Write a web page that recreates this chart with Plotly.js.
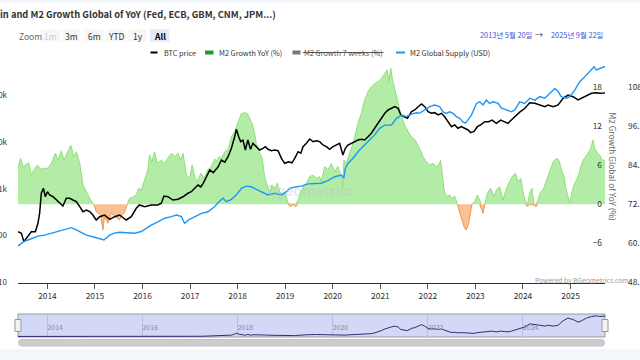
<!DOCTYPE html>
<html><head><meta charset="utf-8">
<script src="https://cdn.plot.ly/plotly-3.0.1.min.js"></script>
<style>
html,body{margin:0;padding:0;background:#f3f6fb;width:640px;height:360px;overflow:hidden}
#chart{position:absolute;left:0;top:3px;width:640px;height:346px;background:#fff}
</style></head><body><div id="chart"></div>
<script>
// ---------------- DATA ----------------
const btcDates = ["2013-05-20","2013-06-15","2013-07-04","2013-08-04","2013-08-30","2013-09-30","2013-10-20","2013-11-02","2013-11-15","2013-12-01","2013-12-16",
"2014-01-01","2014-01-18","2014-02-13","2014-03-10","2014-04-04","2014-04-30","2014-05-26","2014-06-21","2014-07-16","2014-08-11","2014-09-06","2014-10-01","2014-10-27","2014-11-22","2014-12-16",
"2015-01-11","2015-02-06","2015-03-16","2015-04-24","2015-06-01","2015-07-09","2015-08-29","2015-10-07","2015-11-14","2015-12-09",
"2016-01-17","2016-03-09","2016-04-28","2016-05-25","2016-06-14","2016-07-14","2016-08-22","2016-09-30","2016-11-07","2016-12-15",
"2017-01-10","2017-02-05","2017-03-03","2017-03-24","2017-04-11","2017-05-07","2017-06-01","2017-06-27","2017-07-09","2017-08-04","2017-08-29","2017-09-24","2017-10-19","2017-11-14","2017-12-09","2017-12-22",
"2018-01-09","2018-01-24","2018-02-11","2018-03-01","2018-03-20","2018-04-10","2018-04-28","2018-05-24","2018-06-19","2018-07-14","2018-08-02","2018-08-22","2018-09-17","2018-10-12","2018-11-07","2018-12-03","2018-12-28",
"2019-01-28","2019-02-22","2019-03-15","2019-04-10","2019-05-01","2019-05-18","2019-06-13","2019-07-08","2019-08-03","2019-08-29","2019-09-23","2019-10-18","2019-11-13","2019-12-08",
"2020-01-03","2020-01-29","2020-02-23","2020-03-19","2020-04-07","2020-04-27","2020-05-23","2020-06-18","2020-07-13","2020-08-08","2020-09-02","2020-09-28","2020-10-24","2020-11-18","2020-12-14",
"2021-01-09","2021-02-04","2021-03-01","2021-03-27","2021-04-22","2021-05-17","2021-06-07","2021-07-02","2021-07-28","2021-08-28","2021-09-22","2021-10-18","2021-11-13","2021-12-08",
"2022-01-02","2022-01-28","2022-02-22","2022-03-20","2022-04-15","2022-05-10","2022-06-04","2022-07-01","2022-07-26","2022-08-20","2022-09-15","2022-10-10","2022-11-05","2022-11-25","2022-12-21",
"2023-01-16","2023-02-10","2023-03-13","2023-04-13","2023-05-08","2023-06-11","2023-07-14","2023-08-14","2023-09-08","2023-10-04","2023-10-30","2023-12-07",
"2024-01-14","2024-02-22","2024-04-01","2024-05-09","2024-06-17","2024-07-12","2024-08-20","2024-09-27","2024-11-04","2024-12-12",
"2025-01-20","2025-02-27","2025-03-25","2025-05-03","2025-06-10","2025-07-18","2025-08-12","2025-09-15","2025-09-22"];
const btcPrice = [121,112,74,94,121,121,183,299,802,1026,676,
867,736,676,575,490,428,627,627,575,530,414,324,352,324,275,
215,253,275,222,253,275,215,253,383,451,
414,451,451,490,701,676,575,600,676,802,
867,1026,1205,1100,1308,1815,2525,2213,2400,2950,4130,3700,4860,7340,13000,18700,
13000,10200,11000,6760,11070,7000,9400,7950,6760,7340,7950,7000,6530,6760,6530,4490,3510,
3800,3600,4490,6220,5760,7950,9400,11600,10200,10700,10200,8650,7950,7000,
7950,8650,9400,5280,7340,8650,9400,10200,11070,11500,11070,13000,15400,19700,25100,
32200,41200,48500,52700,57000,52400,38000,34800,32200,44700,48500,57000,65200,57000,
44700,41200,42500,38000,41200,34800,27200,21300,23200,19700,21300,19700,18100,15900,16900,
21300,23200,27200,27200,29500,25100,29500,27200,25100,29500,34800,43500,
52000,69500,67500,62100,57000,62100,57000,62100,86300,101400,
93300,79400,86300,101400,110400,113800,110000,112000,113000];

const m2YoyDates = ["2013-05-20","2013-06-09","2013-06-27","2013-07-23","2013-08-10","2013-08-30","2013-09-19","2013-10-16","2013-11-10","2013-12-10",
"2014-01-05","2014-01-31","2014-03-03","2014-03-23","2014-04-18","2014-05-08","2014-05-26","2014-06-29","2014-07-24","2014-08-11","2014-09-06","2014-10-01","2014-10-27","2014-11-29","2014-12-24",
"2015-01-11","2015-02-14","2015-03-03","2015-03-16","2015-04-10","2015-05-06","2015-06-01","2015-07-09","2015-07-22","2015-08-16","2015-09-06","2015-09-24","2015-10-20","2015-11-14","2015-12-02","2015-12-22",
"2016-01-17","2016-02-11","2016-02-24","2016-03-13","2016-04-03","2016-04-23","2016-05-25","2016-06-20","2016-07-20","2016-08-14","2016-09-04","2016-09-30","2016-10-20","2016-11-07","2016-12-03","2016-12-29",
"2017-01-16","2017-02-05","2017-02-26","2017-03-24","2017-04-18","2017-05-14","2017-06-13","2017-07-09","2017-07-26","2017-08-13","2017-08-29","2017-09-24","2017-10-19","2017-11-14","2017-12-09",
"2018-01-04","2018-01-30","2018-02-24","2018-03-16","2018-04-03","2018-04-21","2018-05-11","2018-05-24","2018-06-19","2018-07-09","2018-07-27","2018-08-17","2018-09-04","2018-09-21","2018-10-12","2018-11-02","2018-11-20","2018-12-15",
"2019-01-02","2019-01-22","2019-02-12","2019-03-02","2019-03-22","2019-04-10","2019-05-01","2019-05-18","2019-06-13","2019-07-08","2019-08-03","2019-08-29","2019-09-23","2019-10-05","2019-10-31","2019-11-26","2019-12-21",
"2020-01-16","2020-02-10","2020-03-03","2020-03-19","2020-03-27","2020-04-15","2020-05-11","2020-06-05","2020-06-24","2020-07-13","2020-08-08","2020-09-02","2020-09-28","2020-10-24","2020-11-18","2020-12-14",
"2021-01-09","2021-02-04","2021-02-22","2021-03-07","2021-03-22","2021-04-04","2021-04-22","2021-05-13","2021-05-30","2021-06-17","2021-07-07","2021-08-02","2021-08-28","2021-09-22","2021-10-11","2021-10-30","2021-11-24","2021-12-20",
"2022-01-15","2022-02-09","2022-03-07","2022-03-25","2022-04-09","2022-04-19","2022-05-05","2022-05-23","2022-06-17","2022-07-05","2022-07-26","2022-08-15","2022-09-02","2022-09-19","2022-10-10","2022-10-23","2022-11-10","2022-11-25","2022-12-05","2022-12-26",
"2023-01-16","2023-02-03","2023-02-16","2023-02-28","2023-03-13","2023-04-03","2023-04-28","2023-05-24","2023-06-11","2023-07-06","2023-08-01","2023-08-19","2023-09-13","2023-10-09","2023-11-04","2023-11-24","2023-12-15",
"2024-01-01","2024-01-20","2024-02-04","2024-02-22","2024-03-10","2024-03-25","2024-04-10","2024-04-25","2024-05-16","2024-06-03","2024-06-22","2024-07-12","2024-08-02","2024-08-20","2024-09-15","2024-10-03","2024-10-23","2024-11-12","2024-11-23","2024-12-12","2024-12-25",
"2025-01-12","2025-01-27","2025-02-15","2025-03-04","2025-03-20","2025-04-07","2025-04-25","2025-05-15","2025-06-04","2025-06-22","2025-07-05","2025-07-26","2025-08-12","2025-08-30","2025-09-15","2025-09-22"];
const m2YoyValues = [5.55,7.09,5.8,6.2,6.4,4.5,5.3,6.06,5.4,5.55,
5.55,6.3,7.86,6.8,8.26,6.8,7.6,9.14,7.3,8.1,6.3,2.97,1.94,0.66,0,
-1.14,-1.65,-3.96,-1.8,-2.93,-1.39,-1.8,-2.4,-1.8,-1.2,0,0.92,1.1,1.43,2.47,2.2,
3.74,5.29,7.6,6.5,8.1,6.3,6.8,6.3,7.33,7.86,7.33,7.86,6.8,7.86,4.51,4.0,
6.06,4.26,3.48,4.78,4.0,5.29,5.8,7.0,6.6,7.33,7.09,8.1,8.37,10.4,11.2,
12.73,14.0,14.1,14.0,13.25,12.5,10.9,9.4,7.86,7.09,4.26,2.71,1.7,2.97,2.47,3.24,1.94,1.43,
1.7,0.26,-0.37,0.05,-0.37,0.66,1.7,2.71,3.24,4.26,4.5,4.0,4.26,3.48,5.8,5.3,6.3,
5.0,5.8,4.5,2.71,6.8,6.3,7.86,9.4,10.9,12.5,14.0,16.07,17.35,18.1,18.6,18.9,
19.4,20.2,20.7,18.9,20.95,19.2,17.6,16.07,14.5,13.25,12.2,11.2,10.4,10.0,9.4,8.6,7.33,6.56,
6.06,6.3,5.8,6.06,6.8,4.78,2.2,1.17,1.43,0.92,1.28,0,-1.39,-2.42,-3.7,-3.96,-2.93,-0.9,0,0.4,
1.43,0.66,-0.6,-1.39,0,1.7,2.47,1.17,2.2,2.71,0.66,1.94,3.24,4.26,4.78,3.5,4.0,
1.94,0.4,-0.37,1.7,2.47,-0.1,-0.4,0.66,1.94,2.2,3.24,4.51,5.8,6.56,7.09,6.8,5.29,4.26,2.71,0.92,0.15,
1.94,2.97,3.74,4.51,5.8,6.8,7.33,7.86,8.6,9.9,8.6,7.86,7.6,6.8,6.8,6.8];

const m2SupplyDates = ["2013-05-20","2013-07-04","2013-08-04","2013-09-11","2013-10-20","2013-12-10",
"2014-01-31","2014-03-23","2014-05-14","2014-07-04","2014-08-11","2014-09-18","2014-10-27","2014-12-16",
"2015-01-24","2015-03-11","2015-04-24","2015-06-01","2015-07-09","2015-08-16","2015-11-02","2015-12-22",
"2016-01-30","2016-03-09","2016-04-28","2016-06-20","2016-08-10","2016-09-18","2016-10-26","2016-11-20","2016-12-20",
"2017-02-05","2017-03-29","2017-05-19","2017-07-09","2017-08-13","2017-09-10","2017-10-06","2017-11-14","2017-12-22",
"2018-01-30","2018-03-08","2018-04-16","2018-05-24","2018-07-01","2018-08-22","2018-10-12","2018-12-03",
"2019-01-10","2019-02-05","2019-03-28","2019-05-06","2019-06-26","2019-08-16","2019-10-05","2019-11-25",
"2020-01-16","2020-03-08","2020-03-26","2020-04-07","2020-04-27","2020-06-05","2020-07-13","2020-09-02","2020-10-11","2020-11-18","2020-12-27",
"2021-02-04","2021-03-27","2021-05-05","2021-06-12","2021-07-20","2021-08-28","2021-10-05","2021-10-30","2021-12-08",
"2022-01-15","2022-02-22","2022-04-01","2022-04-27","2022-05-23","2022-06-17","2022-07-13","2022-08-08","2022-09-02","2022-09-27","2022-10-16","2022-11-05","2022-12-01",
"2023-01-09","2023-02-03","2023-02-28","2023-03-26","2023-04-20","2023-05-16","2023-06-24","2023-07-20","2023-08-27","2023-10-04","2023-10-30","2023-12-07",
"2024-01-14","2024-02-22","2024-04-01","2024-05-09","2024-06-17","2024-07-25","2024-09-02","2024-09-27","2024-10-20","2024-11-30","2024-12-25",
"2025-02-02","2025-03-12","2025-04-20","2025-05-15","2025-06-10","2025-06-30","2025-07-18","2025-08-12","2025-09-15","2025-09-22"];
const m2SupplyValues = [59.3,60.6,61.1,61.6,62.3,62.6,
63.2,63.7,64.2,64.9,64.2,63.3,62.6,62.1,
61.6,61.1,62.6,63.2,63.5,63.35,63.2,63.7,
64.7,65.7,66.7,67.8,68.3,68.8,68.3,66.2,67.3,
68.3,69.3,69.8,71.4,73.0,74.0,72.9,73.6,75.0,
77.0,77.7,77.5,76.7,76.0,75.0,75.5,75.0,
76.0,77.0,77.5,77.7,78.4,78.6,78.6,79.4,
80.6,81.1,80.1,83.2,84.7,86.3,88.3,90.4,91.9,93.5,95.5,
96.5,96.5,98.6,99.6,99.1,99.9,100.3,100.2,101.2,
102.2,102.7,102.2,100.6,100.1,100.6,100.1,99.1,98.6,97.5,97.1,98.1,99.6,
103.2,103.7,102.7,104.2,103.2,103.7,103.2,101.7,101.2,100.6,101.2,103.7,
103.2,104.8,104.2,105.3,104.8,106.3,107.8,106.9,105.3,104.8,105.3,
107.3,109.9,111.4,112.5,113.5,114.5,113.5,114.0,114.5,114.3];

const yearTicks = ["2014-01-01","2015-01-01","2016-01-01","2017-01-01","2018-01-01","2019-01-01","2020-01-01","2021-01-01","2022-01-01","2023-01-01","2024-01-01","2025-01-01"];
const yearLabels = ["2014","2015","2016","2017","2018","2019","2020","2021","2022","2023","2024","2025"];
const navTicks = ["2014-01-01","2016-01-01","2018-01-01","2020-01-01","2022-01-01","2024-01-01"];
const navLabels = ["2014","2016","2018","2020","2022","2024"];
const btcTickVals = [10,100,1000,10000,100000];
const btcTickText = ["10","100","1k","10k","100k"];
const yoyTickVals = [-12,-6,0,6,12,18];
const supplyTickVals = [48.1,60.1,72.1,84.1,96.1,108.1];
const supplyTickText = ["48.1T","60.1T","72.1T","84.1T","96.1T","108.1T"];

// ---------------- LAYOUT HELPERS ----------------
const H = 346, OFF = 3, ML = 18, PW = 622;
const px = x => (x - ML) / PW;
const py = y => (H + OFF - y) / H;
const FONT = "'Noto Sans CJK KR', 'Noto Sans', sans-serif";
const X0 = "2013-05-20", X1 = "2025-09-22";
const TICKFONT = {family: FONT, size: 8.4, color: '#333'};

// split the YoY series into its positive (green) and negative (orange) parts
function part(sign) {
  return m2YoyValues.map((v, i) => {
    const ok = w => w !== undefined && sign * w > 0;
    if (sign * v > 0) return v;
    if (ok(m2YoyValues[i - 1]) || ok(m2YoyValues[i + 1])) return 0;
    return null;
  });
}
const pos = part(1);
const neg = part(-1);

const data = [
  {x: m2YoyDates, y: pos, type: 'scatter', mode: 'lines', fill: 'tozeroy', fillcolor: '#b3eca6',
   connectgaps: false, line: {color: '#8fdf7c', width: 1}, xaxis: 'x', yaxis: 'y', hoverinfo: 'skip'},
  {x: m2YoyDates, y: neg, type: 'scatter', mode: 'lines', fill: 'tozeroy', fillcolor: '#f8c295',
   connectgaps: false, line: {color: '#f0954f', width: 1}, xaxis: 'x', yaxis: 'y', hoverinfo: 'skip'},
  {x: btcDates, y: btcPrice, type: 'scatter', mode: 'lines', line: {color: '#000', width: 1.5},
   xaxis: 'x', yaxis: 'y2'},
  {x: m2SupplyDates, y: m2SupplyValues, type: 'scatter', mode: 'lines', line: {color: '#1e96f5', width: 1.4},
   xaxis: 'x', yaxis: 'y3'},
  {x: btcDates, y: btcPrice, type: 'scatter', mode: 'lines', line: {color: '#2c2f6e', width: 1},
   xaxis: 'x2', yaxis: 'y4'}
];

const shapes = [];
const annotations = [];
function rect(x0, y0, x1, y1, fill, lineColor, lw) {
  shapes.push({type: 'rect', xref: 'paper', yref: 'paper', x0: px(x0), x1: px(x1), y0: py(y1), y1: py(y0),
    fillcolor: fill, line: {color: lineColor || 'rgba(0,0,0,0)', width: lw || 0}, layer: 'above'});
}
function hline(x0, x1, y, color, w) {
  shapes.push({type: 'line', xref: 'paper', yref: 'paper', x0: px(x0), x1: px(x1), y0: py(y), y1: py(y),
    line: {color: color, width: w}, layer: 'above'});
}
function text(t, x, y, opts) {
  opts = opts || {};
  annotations.push(Object.assign({text: t, xref: 'paper', yref: 'paper', x: px(x), y: py(y), showarrow: false,
    xanchor: opts.xanchor || 'left', yanchor: 'middle', borderpad: 0,
    font: {family: FONT, size: opts.size || 9, color: opts.color || '#333'}}, opts.extra || {}));
}

// Title
text('<b>in and M2 Growth Global of YoY (Fed, ECB, GBM, CNM, JPM...)</b>', -1, 13.5, {size: 9.3, color: '#333'});
// Range selector
text('Zoom', 18, 35.5, {size: 8.5, color: '#666'});
const btns = [['1m', 40.7, 60, '#cccccc'], ['3m', 62.7, 80, '#333'], ['6m', 85, 103.3, '#333'],
              ['YTD', 106, 126, '#333'], ['1y', 128.3, 146.7, '#333'], ['All', 150, 169.3, '#000']];
btns.forEach(b => {
  rect(b[1], 29.3, b[2], 41.7, b[0] === 'All' ? '#e6e9fb' : '#f7f7f7');
  text(b[0] === 'All' ? '<b>All</b>' : b[0], (b[1] + b[2]) / 2, 35.5, {xanchor: 'center', size: 8.5, color: b[3]});
});
// Date range inputs
text('2013년 5월 20일', 478.5, 35, {size: 7.4, color: '#3b55d6'});
text('→', 539, 35, {xanchor: 'center', size: 8, color: '#444'});
text('2025년 9월 22일', 549.5, 35, {size: 7.4, color: '#3b55d6'});
// Legend
hline(150.5, 157.5, 52.5, '#000', 2);
text('BTC price', 162.5, 52.5, {size: 7.3});
rect(205, 50.5, 213.5, 54.5, '#1f9e27');
text('M2 Growth YoY (%)', 217.5, 52.5, {size: 7.3});
rect(292.5, 50.5, 300.5, 54.5, '#777777');
text('M2 Growth 7 weeks (%)', 303, 52.5, {size: 7.3, color: '#555'});
hline(303, 383.5, 52.5, '#555', 1);
hline(396, 405, 52.5, '#1e96f5', 2);
text('M2 Global Supply (USD)', 408.5, 52.5, {size: 7.3});
// Right axis title
text('M2 Growth Global of YoY (%)', 613, 166.5, {xanchor: 'center', size: 8.3, color: '#666', extra: {textangle: 90}});
// Credits
text('Powered by BGeometrics.com', 533.5, 279.5, {size: 6.7, color: '#999'});
// Watermark
text('<b>bgeometrics</b>', 311, 190, {xanchor: 'center', size: 14, color: 'rgba(190,190,200,0.35)'});

// Navigator background & handles
shapes.push({type: 'rect', xref: 'x2 domain', yref: 'y4 domain', x0: 0, x1: 1, y0: 0, y1: 1,
  fillcolor: '#d3d8f7', line: {color: '#9a9a9a', width: 1}, layer: 'below'});
rect(15, 319.5, 21, 331.5, '#f2f2f2', '#999', 1);
rect(602, 319.5, 608, 331.5, '#f2f2f2', '#999', 1);
// Scrollbar (rounded)
(function () {
  const x0 = 18.5, x1 = 604.5, y0 = 339.5, y1 = 346, r = 3.2;
  const P = (x, y) => px(x).toFixed(5) + ',' + py(y).toFixed(5);
  const path = 'M' + P(x0 + r, y0) + ' L' + P(x1 - r, y0) + ' Q' + P(x1, y0) + ' ' + P(x1, (y0 + y1) / 2) +
    ' Q' + P(x1, y1) + ' ' + P(x1 - r, y1) + ' L' + P(x0 + r, y1) + ' Q' + P(x0, y1) + ' ' + P(x0, (y0 + y1) / 2) +
    ' Q' + P(x0, y0) + ' ' + P(x0 + r, y0) + ' Z';
  shapes.push({type: 'path', xref: 'paper', yref: 'paper', path: path, fillcolor: '#cdcdcd',
    line: {color: '#c2c2c2', width: 1}, layer: 'above'});
})();

const layout = {
  width: 640, height: 346,
  margin: {l: ML, r: 0, t: 0, b: 0, pad: 0},
  paper_bgcolor: '#ffffff', plot_bgcolor: 'rgba(0,0,0,0)',
  font: {family: FONT, size: 10, color: '#333'},
  showlegend: false,
  xaxis: {domain: [0, px(605)], anchor: 'y', type: 'date', range: [X0, X1],
    tickmode: 'array', tickvals: yearTicks, ticktext: yearLabels,
    ticks: 'outside', ticklen: 5, tickcolor: '#555', tickwidth: 1,
    showline: true, linecolor: '#333', linewidth: 1, showgrid: false, zeroline: false,
    tickfont: TICKFONT},
  yaxis: {domain: [py(283), py(62)], anchor: 'x', side: 'right', range: [-12.13, 21.93],
    tickmode: 'array', tickvals: yoyTickVals, ticklabelposition: 'inside', ticks: '',
    showgrid: false, zeroline: false, showline: false, tickfont: TICKFONT},
  yaxis2: {overlaying: 'y', anchor: 'x', side: 'left', type: 'log', range: [0.985, 5.712],
    tickmode: 'array', tickvals: btcTickVals, ticktext: btcTickText, ticks: '', ticklabelstandoff: 10,
    showgrid: false, zeroline: false, showline: false, tickfont: {family: FONT, size: 8, color: '#333'}},
  yaxis3: {overlaying: 'y', anchor: 'free', position: px(627), side: 'right', range: [47.84, 115.96],
    tickmode: 'array', tickvals: supplyTickVals, ticktext: supplyTickText, ticks: '',
    showgrid: false, zeroline: false, showline: false, tickfont: TICKFONT},
  xaxis2: {domain: [0, px(605)], anchor: 'y4', type: 'date', range: [X0, X1],
    tickmode: 'array', tickvals: navTicks, ticktext: navLabels, ticklabelposition: 'inside right',
    ticks: '', showgrid: true, gridcolor: '#b9bfe0', gridwidth: 1, showline: false, zeroline: false,
    tickfont: {family: FONT, size: 7, color: '#8a8a9a'}},
  yaxis4: {domain: [py(337), py(314)], anchor: 'x2', range: [-3000, 124000],
    showticklabels: false, showgrid: false, zeroline: false, showline: false, ticks: ''},
  shapes: shapes,
  annotations: annotations
};

Plotly.newPlot('chart', data, layout, {displayModeBar: false, staticPlot: true});
</script>
</body></html>
